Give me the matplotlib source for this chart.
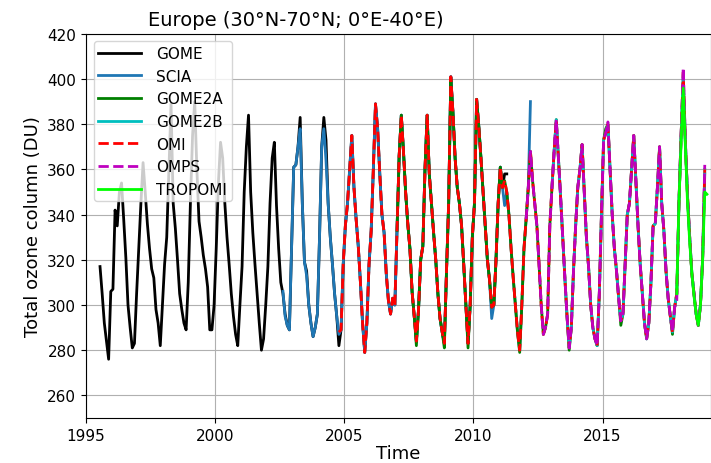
import numpy as np
import matplotlib
matplotlib.use("Agg")
import matplotlib.pyplot as plt

# monthly mean total ozone (DU), one row per year
gome_start = (1995, 7)
gome_du = [
    317, 305, 292, 284, 276, 306,
    307, 342, 335, 350, 354, 338, 321, 300, 290, 281, 283, 305,
    325, 345, 363, 350, 336, 325, 316, 312, 298, 292, 282, 300,
    318, 330, 360, 389, 345, 334, 320, 305, 298, 292, 289, 310,
    345, 375, 390, 360, 337, 330, 322, 316, 308, 289, 289, 300,
    325, 354, 372, 365, 345, 330, 318, 305, 295, 287, 282, 300,
    317, 350, 370, 384, 350, 332, 318, 305, 292, 280, 285, 300,
    317, 345, 365, 372, 344, 325, 310, 305, 296, 291, 289, 325,
    361, 362, 370, 383, 345, 319, 315, 300, 292, 286, 290, 296,
    330, 370, 383, 373, 345, 330, 318, 305, 295, 282, 289, 318,
    335, 345, 360, 375, 352, 338, 326, 310, 292, 279, 292, 318,
    333, 360, 389, 378, 358, 340, 332, 314, 302, 296, 303, 300,
    333, 366, 384, 368, 350, 336, 325, 306, 295, 284, 298, 320,
    326, 360, 384, 358, 345, 332, 320, 305, 294, 288, 283, 315,
    345, 401, 385, 365, 352, 345, 335, 318, 300, 283, 300, 330,
    345, 391, 379, 365, 350, 335, 320, 311, 299, 300, 320, 345,
    361, 352, 358, 358,
]

scia_start = (2002, 8)
scia_du = [
    306, 295, 291, 289, 325,
    361, 362, 370, 378, 345, 319, 313, 300, 292, 286, 290, 296,
    330, 370, 378, 364, 345, 330, 318, 305, 295, 287, 289, 318,
    335, 345, 360, 375, 352, 338, 326, 310, 292, 279, 292, 318,
    333, 360, 389, 378, 358, 340, 332, 314, 302, 296, 303, 300,
    333, 366, 384, 368, 350, 336, 325, 306, 295, 284, 298, 320,
    326, 360, 384, 358, 345, 332, 320, 305, 294, 288, 283, 315,
    345, 401, 385, 365, 352, 345, 335, 318, 300, 283, 300, 330,
    345, 391, 379, 365, 350, 335, 320, 311, 294, 300, 320, 345,
    361, 352, 344, 350, 340, 325, 312, 300, 288, 280, 300, 325,
    338, 352, 390,
]

gome2a_start = (2007, 1)
gome2a_du = [
    333, 366, 384, 368, 350, 336, 325, 306, 295, 282, 298, 320,
    326, 360, 384, 358, 345, 332, 320, 305, 294, 288, 281, 315,
    345, 400, 385, 365, 352, 345, 335, 318, 300, 281, 300, 330,
    345, 391, 379, 365, 350, 335, 320, 311, 299, 300, 320, 345,
    361, 352, 355, 350, 340, 325, 312, 300, 288, 279, 300, 325,
    338, 352, 368, 355, 345, 335, 318, 300, 287, 290, 296, 335,
    352, 368, 382, 365, 348, 330, 312, 295, 280, 290, 315, 335,
    352, 360, 371, 350, 330, 317, 300, 290, 285, 282, 305, 340,
    373, 378, 380, 360, 340, 325, 315, 303, 291, 296, 318, 340,
    345, 360, 375, 355, 335, 318, 305, 292, 285, 292, 310, 335,
    336, 352, 370, 345, 333, 315, 303, 295, 287, 299, 305, 345,
    375, 400, 372, 348, 330, 314, 305, 296, 291, 300, 320, 358,
]

gome2b_start = (2013, 1)
gome2b_du = [
    352, 368, 382, 365, 348, 330, 312, 295, 281, 290, 315, 335,
    352, 360, 371, 350, 330, 317, 300, 290, 285, 282, 305, 340,
    373, 376, 380, 360, 340, 325, 315, 303, 293, 296, 318, 340,
    345, 360, 375, 355, 335, 318, 305, 292, 285, 292, 310, 335,
    336, 352, 370, 345, 333, 315, 303, 295, 288, 299, 305, 345,
    375, 402, 372, 348, 330, 314, 305, 296, 291, 300, 320, 360,
]

omi_start = (2004, 10)
omi_du = [
    288, 289, 318,
    335, 345, 360, 375, 352, 338, 326, 310, 292, 279, 292, 318,
    333, 360, 389, 378, 358, 340, 332, 314, 302, 296, 303, 300,
    333, 366, 384, 368, 350, 336, 325, 306, 295, 284, 298, 320,
    326, 360, 384, 358, 345, 332, 320, 305, 294, 288, 283, 315,
    345, 401, 385, 365, 352, 345, 335, 318, 300, 283, 300, 330,
    345, 391, 379, 365, 350, 335, 320, 311, 299, 300, 320, 345,
    361, 352, 355, 350, 340, 325, 312, 300, 288, 280, 300, 325,
    338, 352, 368, 355, 345, 335, 318, 300, 287, 290, 296, 335,
    352, 368, 382, 365, 348, 330, 312, 295, 281, 290, 315, 335,
    352, 360, 371, 350, 330, 317, 300, 290, 285, 282, 305, 340,
    373, 376, 380, 360, 340, 325, 315, 303, 293, 296, 318, 340,
    345, 360, 375, 355, 335, 318, 305, 292, 285, 292, 310, 335,
    336, 352, 370, 345, 333, 315, 303, 295, 288, 299, 305, 345,
    375, 403, 372, 348, 330, 314, 305, 296, 291, 300, 320, 360,
]

omps_start = (2012, 1)
omps_du = [
    338, 352, 368, 355, 345, 335, 318, 300, 287, 290, 296, 335,
    352, 368, 382, 365, 348, 330, 312, 295, 281, 290, 315, 335,
    352, 360, 371, 350, 330, 317, 300, 290, 285, 282, 305, 340,
    373, 376, 381, 360, 340, 325, 315, 303, 293, 296, 318, 340,
    345, 360, 375, 355, 335, 318, 305, 292, 285, 292, 310, 335,
    336, 352, 370, 345, 333, 315, 303, 295, 288, 299, 302, 345,
    375, 405, 372, 348, 330, 314, 305, 296, 291, 300, 320, 362,
]

tropomi_start = (2017, 11)
tropomi_du = [
    305, 345,
    372, 396, 370, 345, 328, 314, 304, 296, 291, 300, 320, 350,
    349,
]


def months(start, n):
    y, m = start
    return y + (m - 1 + np.arange(n) + 0.5) / 12.0


fig = plt.figure(figsize=(7.11, 4.64), dpi=100)
ax = fig.add_axes([0.121, 0.097, 0.879, 0.828])

ax.plot(months(gome_start, len(gome_du)), gome_du, color='k', lw=2, label='GOME')
ax.plot(months(scia_start, len(scia_du)), scia_du, color='#1f77b4', lw=2, label='SCIA')
ax.plot(months(gome2a_start, len(gome2a_du)), gome2a_du, color='g', lw=2, label='GOME2A')
ax.plot(months(gome2b_start, len(gome2b_du)), gome2b_du, color='c', lw=2, label='GOME2B')
ax.plot(months(omi_start, len(omi_du)), omi_du, 'r--', lw=2, label='OMI')
ax.plot(months(omps_start, len(omps_du)), omps_du, 'm--', lw=2, label='OMPS')
ax.plot(months(tropomi_start, len(tropomi_du)), tropomi_du, color='lime', lw=2, label='TROPOMI')

ax.set_xlim(1995, 2019.2)
ax.set_ylim(250, 420)
ax.set_yticks(np.arange(260, 421, 20))
ax.set_xticks([1995, 2000, 2005, 2010, 2015])
ax.tick_params(labelsize=11)
ax.grid(True)
ax.set_title('Europe (30°N-70°N; 0°E-40°E)', fontsize=14, x=0.336)
ax.set_xlabel('Time', fontsize=13, labelpad=1)
ax.set_ylabel('Total ozone column (DU)', fontsize=13)
ax.legend(loc='upper left', fontsize=11, handlelength=2.8, handletextpad=1.0,
          borderpad=0.3)

fig.savefig('out.png', dpi=100)
